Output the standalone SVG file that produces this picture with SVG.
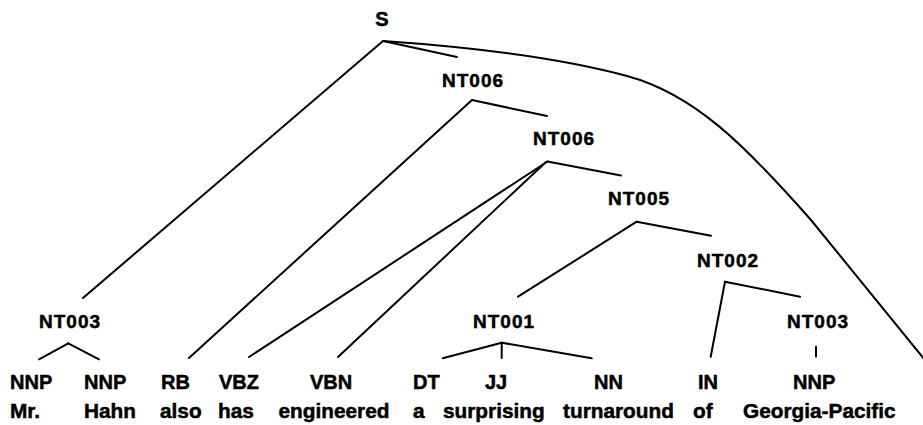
<svg xmlns="http://www.w3.org/2000/svg" width="923" height="425" viewBox="0 0 923 425">
<style>
text{font-family:"Liberation Sans",Arial,sans-serif;font-weight:bold;fill:#000;stroke:#000;stroke-width:0.5px}
.nt{font-size:19px;letter-spacing:1px}
.s{font-size:20px}
.tag{font-size:20px}
.w{font-size:20.8px}
.e{fill:none;stroke:#000;stroke-width:2;stroke-linecap:round;stroke-linejoin:round}
</style>
<rect width="923" height="425" fill="#fff"/>
<g id="connectors">
<path class="e" d="M383,41 L83,298"/>
<path class="e" d="M383,41 L457,57"/>
<path class="e" d="M383,41 C470,47 560,58 627,76 S745,145 811,220 L925,360"/>
<path class="e" d="M472,100 L189,358"/>
<path class="e" d="M472,100 L547,116"/>
<path class="e" d="M547.5,161.5 L249,357"/>
<path class="e" d="M546,162 L338,357"/>
<path class="e" d="M547.5,161.5 L621,175.5"/>
<path class="e" d="M636.7,221.7 L518,296.7"/>
<path class="e" d="M636.7,221.7 L711,235.7"/>
<path class="e" d="M725,281.7 L710.7,356.7"/>
<path class="e" d="M725,281.7 L800,296.7"/>
<path class="e" d="M68.3,343.3 L39,359.3"/>
<path class="e" d="M68.3,343.3 L99,359.3"/>
<path class="e" d="M501.7,342.7 L442.7,358.3"/>
<path class="e" d="M501.7,342.7 L501.7,358"/>
<path class="e" d="M501.7,342.7 L591.7,358.3"/>
<path class="e" d="M816,346.7 L816,356.7"/>
</g>
<g id="S"><text class="s" x="382" y="26" text-anchor="middle">S</text></g>
<g id="NT006a"><text class="nt" x="442" y="87">NT006</text></g>
<g id="NT006b"><text class="nt" x="533" y="145">NT006</text></g>
<g id="NT005"><text class="nt" x="608" y="205">NT005</text></g>
<g id="NT002"><text class="nt" x="697" y="266.7">NT002</text></g>
<g id="NT003a"><text class="nt" x="39" y="327.5">NT003</text></g>
<g id="NT001"><text class="nt" x="473" y="327.7">NT001</text></g>
<g id="NT003b"><text class="nt" x="787" y="327.7">NT003</text></g>
<g id="leaf1"><text class="tag" x="10" y="388.5">NNP</text><text class="w" x="10" y="418">Mr.</text></g>
<g id="leaf2"><text class="tag" x="84" y="388.5">NNP</text><text class="w" x="84" y="418">Hahn</text></g>
<g id="leaf3"><text class="tag" x="161" y="388.5">RB</text><text class="w" x="160" y="418">also</text></g>
<g id="leaf4"><text class="tag" x="219" y="388.5">VBZ</text><text class="w" x="218" y="418">has</text></g>
<g id="leaf5"><text class="tag" x="310" y="388.5">VBN</text><text class="w" x="278.5" y="418">engineered</text></g>
<g id="leaf6"><text class="tag" x="413" y="388.5">DT</text><text class="w" x="413" y="418">a</text></g>
<g id="leaf7"><text class="tag" x="485" y="388.5">JJ</text><text class="w" x="443" y="418">surprising</text></g>
<g id="leaf8"><text class="tag" x="594" y="388.5">NN</text><text class="w" x="563" y="418">turnaround</text></g>
<g id="leaf9"><text class="tag" x="698" y="388.5">IN</text><text class="w" x="693" y="418">of</text></g>
<g id="leaf10"><text class="tag" x="793" y="388.5">NNP</text><text class="w" x="743" y="418">Georgia-Pacific</text></g>
</svg>
